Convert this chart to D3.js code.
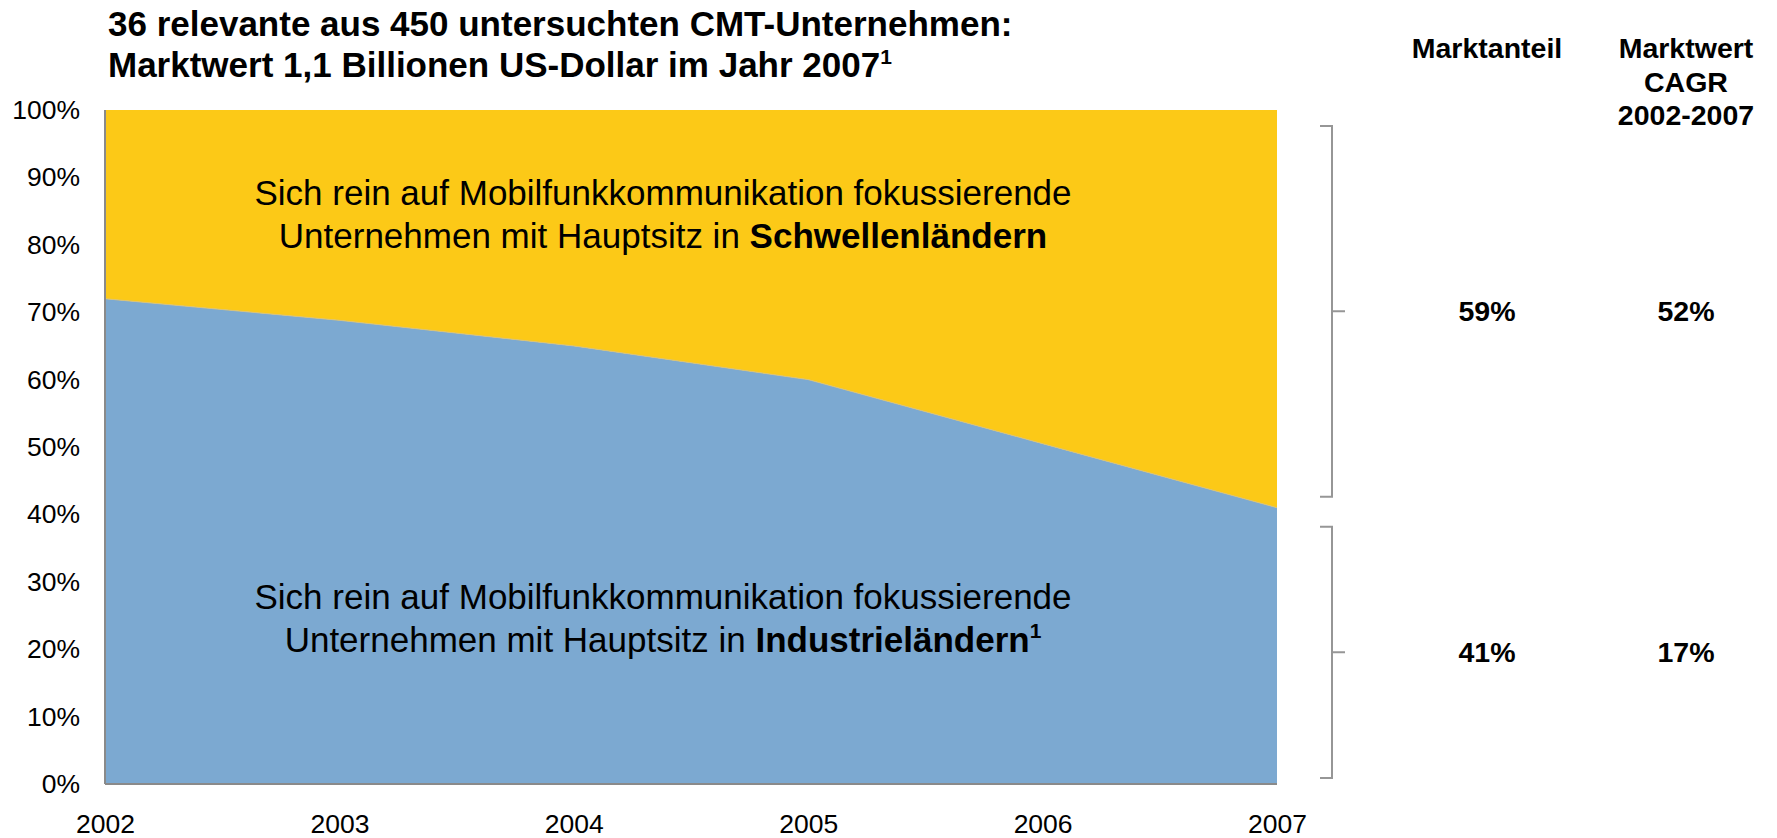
<html>
<head>
<meta charset="utf-8">
<script src="https://d3js.org/d3.v7.min.js"></script>
<style>
  body { margin: 0; background: #fff; }
  text { font-family: "Liberation Sans", Arial, sans-serif; fill: #000; }
  .axis path { stroke: #8a8a8a; stroke-width: 2px; }
  .axis text { font-size: 26.5px; }
  .bracket { fill: none; stroke: #969696; stroke-width: 2px; }
</style>
</head>
<body>
<svg id="chart" width="1777" height="838"></svg>
<script>
// values (share of market value, %)
var years = ["2002", "2003", "2004", "2005", "2006", "2007"];
var industrie = [72, 68.8, 65, 60, 50.5, 41];
var schwellen = [28, 31.2, 35, 40, 49.5, 59];
var yTicks = [0, 10, 20, 30, 40, 50, 60, 70, 80, 90, 100];
var keys = ["industrie", "schwellen"];
var colors = ["#7ca9d1", "#fcc917"];
var marktanteil = ["59%", "41%"];
var cagr = ["52%", "17%"];

var svg = d3.select("#chart");
var plotL = 105, plotR = 1277, plotT = 110, plotB = 784;

var x = d3.scalePoint().domain(years).range([plotL, plotR]);
var y = d3.scaleLinear().domain([0, 100]).range([plotB, plotT]);

var rows = years.map(function(yr, i) {
  return { year: yr, industrie: industrie[i], schwellen: schwellen[i] };
});
var series = d3.stack().keys(keys)(rows);

var area = d3.area()
  .x(function(d) { return x(d.data.year); })
  .y0(function(d) { return y(d[0]); })
  .y1(function(d) { return y(d[1]); });

svg.append("g").selectAll("path")
  .data(series)
  .enter().append("path")
  .attr("d", area)
  .attr("fill", function(d, i) { return colors[i]; });

// thin seam between the two areas
svg.append("path")
  .datum(series[0])
  .attr("d", d3.line().x(function(d) { return x(d.data.year); }).y(function(d) { return y(d[1]); }))
  .attr("fill", "none")
  .attr("stroke", "#d8c27a")
  .attr("stroke-width", 1);

// axes
svg.append("g")
  .attr("class", "axis")
  .attr("transform", "translate(" + plotL + ",0)")
  .call(d3.axisLeft(y).tickValues(yTicks).tickSize(0).tickPadding(25).tickFormat(function(d) { return d + "%"; }))
  .call(function(g) { g.select(".domain").attr("d", "M0," + plotT + "V" + plotB); });

svg.append("g")
  .attr("class", "axis")
  .attr("transform", "translate(0," + plotB + ")")
  .call(d3.axisBottom(x).tickSize(0).tickPadding(30))
  .call(function(g) { g.select(".domain").attr("d", "M" + plotL + ",0H" + plotR); });

svg.selectAll(".axis text").attr("fill", "#000");

// title
var title = svg.append("text").attr("font-size", 35).attr("font-weight", "bold");
title.append("tspan").attr("x", 108).attr("y", 36).text("36 relevante aus 450 untersuchten CMT-Unternehmen:");
title.append("tspan").attr("x", 108).attr("y", 77).text("Marktwert 1,1 Billionen US-Dollar im Jahr 2007");
title.append("tspan").attr("font-size", 21).attr("dy", -13).text("1");

// labels inside the areas
function areaLabel(yb, boldWord, sup) {
  var g = svg.append("text").attr("text-anchor", "middle").attr("font-size", 35);
  g.append("tspan").attr("x", 663).attr("y", yb).text("Sich rein auf Mobilfunkkommunikation fokussierende");
  var l2 = g.append("tspan").attr("x", 663).attr("y", yb + 43);
  l2.append("tspan").text("Unternehmen mit Hauptsitz in ");
  l2.append("tspan").attr("font-weight", "bold").text(boldWord);
  if (sup) l2.append("tspan").attr("font-weight", "bold").attr("font-size", 21).attr("dy", -14).text(sup);
}
areaLabel(205, "Schwellenländern", null);
areaLabel(609, "Industrieländern", "1");

// brackets on the right
var brackets = [
  { y0: y(100) + 16, y1: y(industrie[5]) - 11 },
  { y0: y(industrie[5]) + 19, y1: y(0) - 6 }
];
var bx = 1332;
brackets.forEach(function(b, i) {
  var mid = (b.y0 + b.y1) / 2;
  svg.append("path").attr("class", "bracket")
    .attr("d", "M" + (bx - 12) + "," + b.y0 + "H" + bx + "V" + b.y1 + "H" + (bx - 12) + "M" + bx + "," + mid + "H" + (bx + 13));
  svg.append("text").attr("x", 1487).attr("y", mid + 10).attr("text-anchor", "middle")
    .attr("font-size", 28.5).attr("font-weight", "bold").text(marktanteil[i]);
  svg.append("text").attr("x", 1686).attr("y", mid + 10).attr("text-anchor", "middle")
    .attr("font-size", 28.5).attr("font-weight", "bold").text(cagr[i]);
});

// column headers
svg.append("text").attr("x", 1487).attr("y", 58).attr("text-anchor", "middle")
  .attr("font-size", 28.5).attr("font-weight", "bold").text("Marktanteil");
var h2 = svg.append("text").attr("text-anchor", "middle").attr("font-size", 28.5).attr("font-weight", "bold");
["Marktwert", "CAGR", "2002-2007"].forEach(function(s, i) {
  h2.append("tspan").attr("x", 1686).attr("y", 58 + i * 33.5).text(s);
});
</script>
</body>
</html>
